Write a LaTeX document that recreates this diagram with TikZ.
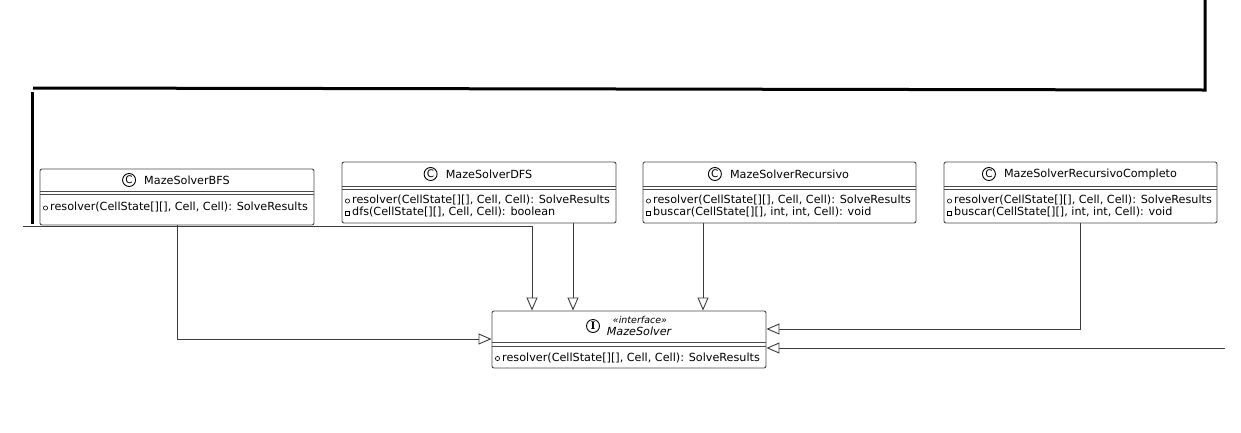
\documentclass[tikz,border=0pt]{standalone}
\usepackage{fontspec}
\setmainfont{DejaVu Sans}
\newfontfamily\iconserif{DejaVu Serif}
\usetikzlibrary{arrows.meta,positioning,calc}
\definecolor{edge}{HTML}{3C3C3C}
\definecolor{boxline}{HTML}{4A4A4A}
\begin{document}
\begin{tikzpicture}[x=1pt,y=-1pt,
  cls/.style={draw=boxline, line width=0.9pt, rounded corners=2pt, fill=white, inner sep=0pt},
  sepline/.style={draw=boxline, line width=0.9pt},
  ttl/.style={font=\fontsize{11.2pt}{13pt}\selectfont, inner sep=0pt},
  mth/.style={font=\fontsize{11.2pt}{13pt}\selectfont, inner sep=0pt, anchor=west},
  icon/.style={circle, draw=black, line width=0.9pt, minimum size=13pt, inner sep=0pt, font=\fontsize{10.5pt}{10.5pt}\selectfont},
  pubmark/.style={circle, draw=black, line width=0.6pt, minimum size=4.2pt, inner sep=0pt},
  privmark/.style={rectangle, draw=black, line width=0.6pt, minimum size=4.2pt, inner sep=0pt},
  conn/.style={draw=edge, line width=0.9pt},
  realize/.style={conn, -{Triangle[open, length=13pt, width=11pt, fill=white]}},
  heavy/.style={draw=black, line width=3pt, line join=miter},
]
\fill[white] (0,0) rectangle (1241,432);
\useasboundingbox (0,0) rectangle (1241,432);

% ---------- MazeSolverBFS ----------
\node[cls, minimum width=274pt, minimum height=56pt] (bfs) at (177,197) {};
\node[ttl] (bfsT) at (187,180) {MazeSolverBFS};
\node[icon, left=8pt of bfsT] (bfsI) {C};
\draw[sepline] (bfs.west |- 0,191) -- (bfs.east |- 0,191);
\draw[sepline] (bfs.west |- 0,194) -- (bfs.east |- 0,194);
\node[pubmark] (bfsV1) at (45.5,208) {};
\node[mth] (bfsM1) at (50,207) {resolver(CellState[][], Cell, Cell): SolveResults};

% ---------- MazeSolverDFS ----------
\node[cls, minimum width=274pt, minimum height=61pt] (dfs) at (479,192.5) {};
\node[ttl] (dfsT) at (489,174) {MazeSolverDFS};
\node[icon, left=8pt of dfsT] (dfsI) {C};
\draw[sepline] (dfs.west |- 0,186) -- (dfs.east |- 0,186);
\draw[sepline] (dfs.west |- 0,189) -- (dfs.east |- 0,189);
\node[pubmark] (dfsV1) at (347.5,201) {};
\node[mth] (dfsM1) at (352,200) {resolver(CellState[][], Cell, Cell): SolveResults};
\node[privmark] (dfsV2) at (347.5,213) {};
\node[mth] (dfsM2) at (352,212) {dfs(CellState[][], Cell, Cell): boolean};

% ---------- MazeSolverRecursivo ----------
\node[cls, minimum width=273pt, minimum height=61pt] (rec) at (779.5,192.5) {};
\node[ttl] (recT) at (789.5,174) {MazeSolverRecursivo};
\node[icon, left=8pt of recT] (recI) {C};
\draw[sepline] (rec.west |- 0,186) -- (rec.east |- 0,186);
\draw[sepline] (rec.west |- 0,189) -- (rec.east |- 0,189);
\node[pubmark] (recV1) at (648.5,201) {};
\node[mth] (recM1) at (653,200) {resolver(CellState[][], Cell, Cell): SolveResults};
\node[privmark] (recV2) at (648.5,213) {};
\node[mth] (recM2) at (653,212) {buscar(CellState[][], int, int, Cell): void};

% ---------- MazeSolverRecursivoCompleto ----------
\node[cls, minimum width=273pt, minimum height=61pt] (rc) at (1080.5,192.5) {};
\node[ttl] (rcT) at (1090.5,174) {MazeSolverRecursivoCompleto};
\node[icon, left=8pt of rcT] (rcI) {C};
\draw[sepline] (rc.west |- 0,186) -- (rc.east |- 0,186);
\draw[sepline] (rc.west |- 0,189) -- (rc.east |- 0,189);
\node[pubmark] (rcV1) at (949.5,201) {};
\node[mth] (rcM1) at (954,200) {resolver(CellState[][], Cell, Cell): SolveResults};
\node[privmark] (rcV2) at (949.5,213) {};
\node[mth] (rcM2) at (954,212) {buscar(CellState[][], int, int, Cell): void};

% ---------- MazeSolver (interface) ----------
\node[cls, minimum width=274pt, minimum height=57pt] (iface) at (629,339.5) {};
\node[icon, font=\fontsize{10.5pt}{10.5pt}\selectfont\iconserif\bfseries] (ifI) at (593,326) {I};
\node[ttl, font=\fontsize{9.5pt}{11pt}\selectfont\itshape] (ifS) at (640,320) {«interface»};
\node[ttl, font=\fontsize{11.2pt}{13pt}\selectfont\itshape] (ifT) at (639,331.5) {MazeSolver};
\draw[sepline] (iface.west |- 0,342.5) -- (iface.east |- 0,342.5);
\draw[sepline] (iface.west |- 0,346) -- (iface.east |- 0,346);
\node[pubmark] (ifV1) at (497.5,358.5) {};
\node[mth] (ifM1) at (502,357.5) {resolver(CellState[][], Cell, Cell): SolveResults};

% ---------- connectors ----------
\coordinate (s1) at (23,226);
\draw[realize] (s1) -- (532,226) -- (iface.north -| 532,0);
\draw[realize] (dfs.south -| 573,0) -- (iface.north -| 573,0);
\draw[realize] (rec.south -| 703,0) -- (iface.north -| 703,0);
\draw[realize] (rc.south) |- (iface.east |- 0,329);
\coordinate (s2) at (1225,348);
\draw[realize] (s2) -- (iface.east |- 0,348);
\draw[realize] (bfs.south) |- (iface.west |- 0,339);

% ---------- heavy line ----------
\coordinate (h0) at (1205,-2);
\coordinate (h1) at (1205,90);
\coordinate (h2) at (33,88);
\draw[heavy] (h0) -- (h1) -- (h2);
\coordinate (h3) at (32,92);
\coordinate (h4) at (32,224);
\draw[heavy] (h3) -- (h4);
\end{tikzpicture}
\end{document}
